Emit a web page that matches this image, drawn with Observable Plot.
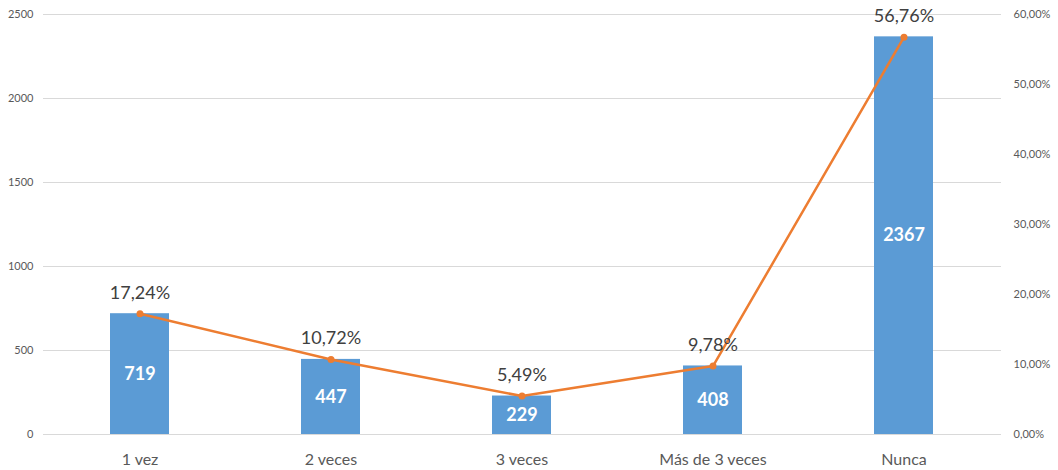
<!DOCTYPE html>
<html>
<head>
<meta charset="utf-8">
<script src="https://cdn.jsdelivr.net/npm/d3@7"></script>
<script src="https://cdn.jsdelivr.net/npm/@observablehq/plot@0.6"></script>
<style>
  html, body { margin: 0; padding: 0; background: #fff; }
  #chart { width: 1058px; height: 470px; }
</style>
</head>
<body>
<div id="chart"></div>
<script>
const categories = ["1 vez", "2 veces", "3 veces", "Más de 3 veces", "Nunca"];
const counts = [719, 447, 229, 408, 2367];
const percents = [17.24, 10.72, 5.49, 9.78, 56.76];
const leftTicks = [0, 500, 1000, 1500, 2000, 2500];
const rightTicks = [0, 10, 20, 30, 40, 50, 60];

const leftMax = 2500, rightMax = 60;
const toLeft = p => p / rightMax * leftMax;

const data = categories.map((c, i) => ({cat: c, count: counts[i], pct: percents[i], pctY: toLeft(percents[i])}));
const fmtPct = v => v.toFixed(2).replace(".", ",") + "%";

const font = "Lato, 'Open Sans', sans-serif";

const chart = Plot.plot({
  width: 1058,
  height: 470,
  marginLeft: 43,
  marginRight: 57,
  marginTop: 14,
  marginBottom: 36,
  style: {fontFamily: font, background: "#fff"},
  x: {domain: categories, paddingInner: 0.69, paddingOuter: 0.345, label: null},
  y: {domain: [0, leftMax], label: null},
  marks: [
    Plot.ruleY(leftTicks, {stroke: "#d9d9d9", strokeWidth: 1}),
    Plot.axisY(leftTicks, {anchor: "left", tickSize: 0, tickPadding: 10, fontSize: 11, color: "#595959", label: null, tickFormat: d => String(d)}),
    Plot.axisY(rightTicks.map(toLeft), {anchor: "right", tickSize: 0, tickPadding: 12, textAnchor: "start", fontSize: 11, color: "#595959", label: null, tickFormat: d => (d / leftMax * rightMax).toFixed(2).replace(".", ",") + "%"}),
    Plot.axisX({tickSize: 0, tickPadding: 19, fontSize: 16, color: "#595959", label: null}),
    Plot.barY(data, {x: "cat", y: "count", fill: "#5b9bd5"}),
    Plot.text(data, {x: "cat", y: d => d.count / 2, text: d => String(d.count), fill: "#fff", fontWeight: "bold", fontSize: 18}),
    Plot.line(data, {x: "cat", y: "pctY", stroke: "#ed7d31", strokeWidth: 2.5}),
    Plot.dot(data, {x: "cat", y: "pctY", fill: "#ed7d31", r: 3.5, stroke: null}),
    Plot.text(data, {x: "cat", y: "pctY", dy: -21, text: d => fmtPct(d.pct), fill: "#404040", fontSize: 18})
  ]
});
document.getElementById("chart").appendChild(chart);
</script>
</body>
</html>
